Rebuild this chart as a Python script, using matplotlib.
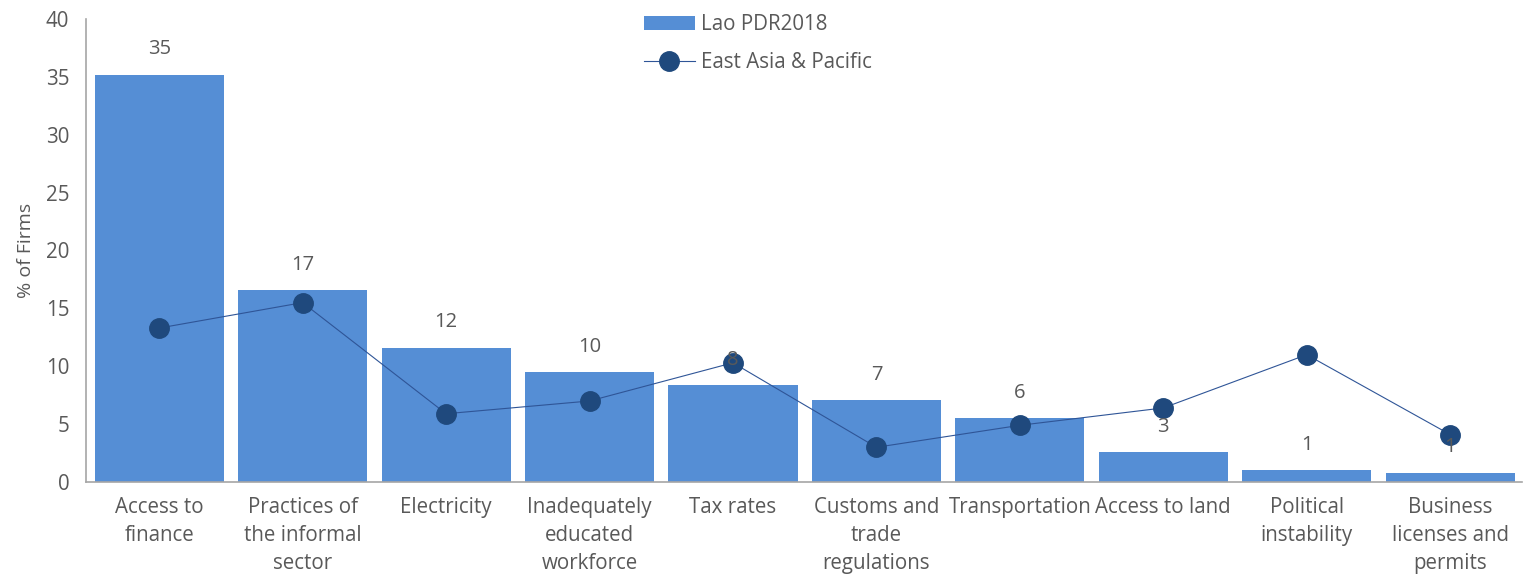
import numpy as np
import matplotlib.pyplot as plt

plt.rcParams['font.family'] = ['Open Sans', 'DejaVu Sans']

categories = ["Access to\nfinance", "Practices of\nthe informal\nsector", "Electricity",
              "Inadequately\neducated\nworkforce", "Tax rates", "Customs and\ntrade\nregulations",
              "Transportation", "Access to land", "Political\ninstability",
              "Business\nlicenses and\npermits"]
lao_values = [35.2, 16.6, 11.6, 9.5, 8.4, 7.1, 5.5, 2.6, 1.0, 0.8]
lao_labels = ["35", "17", "12", "10", "8", "7", "6", "3", "1", "1"]
eap_values = [13.3, 15.5, 5.9, 7.0, 10.3, 3.0, 4.9, 6.4, 11.0, 4.1]

text_color = '#595959'

fig = plt.figure(figsize=(15.28, 5.75), dpi=100)
ax = fig.add_axes([0.0563, 0.1617, 0.9397, 0.8053])

x = np.arange(len(categories))
bars = ax.bar(x, lao_values, width=0.9, color='#558ED5', label='Lao PDR2018', zorder=2)
line, = ax.plot(x, eap_values, color='#2F5597', linewidth=0.8, marker='o', markersize=14,
                markerfacecolor='#1F497D', markeredgecolor='#1F497D',
                label='East Asia & Pacific', zorder=3)

for xi, v, lab in zip(x, lao_values, lao_labels):
    ax.annotate(lab, (xi, v), xytext=(0, 11), textcoords='offset points',
                ha='center', va='bottom', fontsize=14.5, color=text_color)

ax.set_xlim(-0.51, len(categories) - 0.5)
ax.set_ylim(0, 40)
ax.set_yticks(range(0, 41, 5))
ax.set_xticks(x)
ax.set_xticklabels(categories, fontsize=14.8, color=text_color, linespacing=1.42)
ax.tick_params(axis='y', labelsize=14.8, labelcolor=text_color, length=0, pad=12)
ax.tick_params(axis='x', length=0, pad=11)
ax.set_ylabel('% of Firms', fontsize=14, color=text_color, labelpad=8)

for s in ['top', 'right']:
    ax.spines[s].set_visible(False)
for s in ['left', 'bottom']:
    ax.spines[s].set_color('#A6A6A6')
    ax.spines[s].set_linewidth(1.2)

leg = ax.legend([bars, line], ['Lao PDR2018', 'East Asia & Pacific'],
                loc='upper center', bbox_to_anchor=(0.468, 1.05), frameon=False,
                fontsize=14.8, handlelength=2.5, handletextpad=0.3, labelspacing=0.8)
for t in leg.get_texts():
    t.set_color(text_color)

fig.savefig('out.png', dpi=100)
